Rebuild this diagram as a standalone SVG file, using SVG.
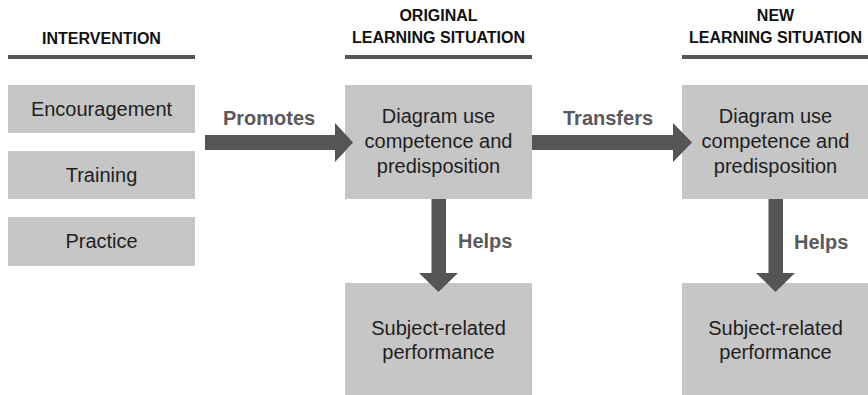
<svg xmlns="http://www.w3.org/2000/svg" width="868" height="395" viewBox="0 0 868 395">
<style>
.box{fill:#c6c6c6}
.bt{font-family:"Liberation Sans",Arial,sans-serif;font-size:20px;fill:#1e1e1e;text-anchor:middle}
.hd{font-family:"Liberation Sans",Arial,sans-serif;font-size:16px;font-weight:bold;fill:#111;text-anchor:middle}
.hl{fill:#555}
.lb{font-family:"Liberation Sans",Arial,sans-serif;font-size:20px;font-weight:bold;fill:#5a5a5a}
.ar{fill:#555}
</style>
<rect width="868" height="395" fill="#fff"/>
<g id="header-intervention">
<text class="hd" x="101.5" y="44">INTERVENTION</text>
<rect class="hl" x="8" y="55" width="187" height="4"/>
</g>
<g id="header-original">
<text class="hd" x="438.5" y="21">ORIGINAL</text>
<text class="hd" x="438.5" y="43">LEARNING SITUATION</text>
<rect class="hl" x="345" y="55" width="187" height="4"/>
</g>
<g id="header-new">
<text class="hd" x="775.5" y="21">NEW</text>
<text class="hd" x="775.5" y="43">LEARNING SITUATION</text>
<rect class="hl" x="682" y="55" width="187" height="4"/>
</g>
<g id="encouragement">
<rect class="box" x="8" y="85" width="187" height="48"/>
<text class="bt" x="101.5" y="116">Encouragement</text>
</g>
<g id="training">
<rect class="box" x="8" y="151" width="187" height="48"/>
<text class="bt" x="101.5" y="182">Training</text>
</g>
<g id="practice">
<rect class="box" x="8" y="217" width="187" height="49"/>
<text class="bt" x="101.5" y="248">Practice</text>
</g>
<g id="original-competence">
<rect class="box" x="345" y="85" width="187" height="114"/>
<text class="bt" x="438.5" y="123">Diagram use</text>
<text class="bt" x="438.5" y="148">competence and</text>
<text class="bt" x="438.5" y="173">predisposition</text>
</g>
<g id="new-competence">
<rect class="box" x="682" y="85" width="187" height="114"/>
<text class="bt" x="775.5" y="123">Diagram use</text>
<text class="bt" x="775.5" y="148">competence and</text>
<text class="bt" x="775.5" y="173">predisposition</text>
</g>
<g id="original-performance">
<rect class="box" x="345" y="283" width="187" height="112"/>
<text class="bt" x="438.5" y="335">Subject-related</text>
<text class="bt" x="438.5" y="359">performance</text>
</g>
<g id="new-performance">
<rect class="box" x="682" y="283" width="187" height="112"/>
<text class="bt" x="775.5" y="335">Subject-related</text>
<text class="bt" x="775.5" y="359">performance</text>
</g>
<g id="connectors">
<polygon class="ar" points="205,135 335,135 335,123 353,142.5 335,162 335,150 205,150"/>
<text class="lb" x="223" y="125">Promotes</text>
<polygon class="ar" points="532,135 673,135 673,123 692,142.5 673,162 673,150 532,150"/>
<text class="lb" x="563" y="125">Transfers</text>
<polygon class="ar" points="431.5,199 446,199 446,273 458,273 438.5,292 419,273 431.5,273"/>
<text class="lb" x="458" y="248">Helps</text>
<polygon class="ar" points="768.5,199 783,199 783,273 795,273 775.5,292 756,273 768.5,273"/>
<text class="lb" x="794" y="249">Helps</text>
</g>
</svg>
